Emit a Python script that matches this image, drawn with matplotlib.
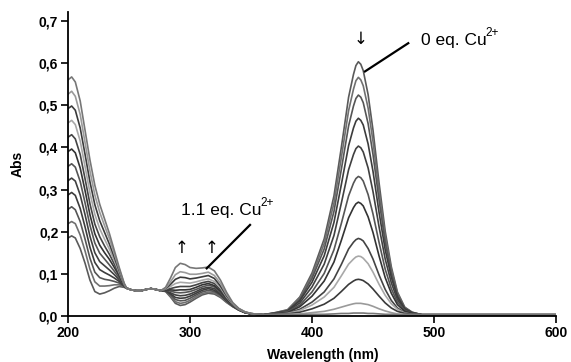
import matplotlib
matplotlib.use("Agg")
import matplotlib.pyplot as plt

plt.rcParams['font.family'] = ['Liberation Sans', 'DejaVu Sans']

# ---- data ----
# UV region, per curve (0 eq ... 1.1 eq Cu2+)
wl_uv = [200, 203, 206, 210, 214, 218, 222, 226, 230, 234, 238, 242, 246, 248]
abs_uv = [
    [0.185, 0.190, 0.185, 0.160, 0.125, 0.085, 0.058, 0.052, 0.055, 0.060, 0.066, 0.070, 0.068, 0.066],
    [0.219, 0.224, 0.219, 0.192, 0.154, 0.111, 0.081, 0.071, 0.071, 0.072, 0.074, 0.074, 0.069, 0.066],
    [0.253, 0.259, 0.252, 0.224, 0.182, 0.137, 0.104, 0.091, 0.087, 0.085, 0.082, 0.078, 0.070, 0.066],
    [0.287, 0.293, 0.286, 0.255, 0.211, 0.163, 0.127, 0.110, 0.103, 0.097, 0.090, 0.082, 0.071, 0.066],
    [0.321, 0.327, 0.320, 0.287, 0.240, 0.189, 0.150, 0.129, 0.119, 0.109, 0.098, 0.086, 0.072, 0.066],
    [0.355, 0.361, 0.353, 0.319, 0.268, 0.215, 0.173, 0.149, 0.135, 0.121, 0.106, 0.090, 0.073, 0.066],
    [0.390, 0.396, 0.387, 0.351, 0.297, 0.240, 0.195, 0.168, 0.150, 0.134, 0.115, 0.095, 0.073, 0.066],
    [0.424, 0.430, 0.420, 0.383, 0.325, 0.266, 0.218, 0.188, 0.166, 0.146, 0.123, 0.099, 0.074, 0.066],
    [0.458, 0.464, 0.454, 0.415, 0.354, 0.292, 0.241, 0.207, 0.182, 0.158, 0.131, 0.103, 0.075, 0.066],
    [0.492, 0.498, 0.488, 0.446, 0.383, 0.318, 0.264, 0.226, 0.198, 0.170, 0.139, 0.107, 0.076, 0.066],
    [0.526, 0.533, 0.521, 0.478, 0.411, 0.344, 0.287, 0.246, 0.214, 0.183, 0.147, 0.111, 0.077, 0.066],
    [0.560, 0.567, 0.555, 0.510, 0.440, 0.370, 0.310, 0.265, 0.230, 0.195, 0.155, 0.115, 0.078, 0.066],
]

# isosbestic stretch, common to all curves
wl_iso = [252, 256, 260, 264, 268, 272, 276]
abs_iso = [0.062, 0.060, 0.060, 0.063, 0.065, 0.063, 0.060]

# 280-355 nm region, per curve
wl_mid = [280, 284, 288, 292, 296, 300, 305, 310, 315, 320, 325, 330, 335, 340, 345, 350, 355]
abs_mid = [
    [0.058, 0.045, 0.030, 0.025, 0.027, 0.033, 0.042, 0.050, 0.054, 0.052, 0.044, 0.032, 0.022, 0.014, 0.008, 0.005, 0.004],
    [0.059, 0.047, 0.034, 0.030, 0.032, 0.037, 0.046, 0.053, 0.057, 0.055, 0.046, 0.033, 0.023, 0.014, 0.008, 0.005, 0.004],
    [0.059, 0.050, 0.039, 0.036, 0.037, 0.042, 0.050, 0.057, 0.061, 0.058, 0.049, 0.035, 0.023, 0.014, 0.008, 0.005, 0.004],
    [0.060, 0.053, 0.044, 0.042, 0.043, 0.047, 0.054, 0.061, 0.065, 0.061, 0.051, 0.036, 0.024, 0.015, 0.008, 0.005, 0.004],
    [0.060, 0.055, 0.050, 0.048, 0.049, 0.052, 0.058, 0.065, 0.068, 0.065, 0.053, 0.038, 0.024, 0.015, 0.008, 0.005, 0.004],
    [0.061, 0.059, 0.056, 0.055, 0.056, 0.058, 0.063, 0.069, 0.073, 0.069, 0.056, 0.039, 0.025, 0.015, 0.009, 0.005, 0.004],
    [0.062, 0.062, 0.061, 0.062, 0.062, 0.063, 0.068, 0.074, 0.077, 0.072, 0.059, 0.041, 0.026, 0.015, 0.009, 0.005, 0.004],
    [0.063, 0.065, 0.068, 0.070, 0.070, 0.070, 0.074, 0.079, 0.082, 0.077, 0.062, 0.043, 0.027, 0.016, 0.009, 0.005, 0.004],
    [0.064, 0.070, 0.077, 0.080, 0.079, 0.078, 0.081, 0.085, 0.088, 0.082, 0.067, 0.045, 0.028, 0.016, 0.009, 0.006, 0.004],
    [0.065, 0.075, 0.087, 0.092, 0.091, 0.088, 0.090, 0.093, 0.096, 0.089, 0.071, 0.048, 0.029, 0.017, 0.009, 0.006, 0.004],
    [0.066, 0.081, 0.098, 0.105, 0.103, 0.099, 0.099, 0.101, 0.104, 0.096, 0.077, 0.051, 0.030, 0.017, 0.010, 0.006, 0.004],
    [0.068, 0.090, 0.115, 0.125, 0.122, 0.115, 0.113, 0.114, 0.116, 0.107, 0.085, 0.056, 0.032, 0.018, 0.010, 0.006, 0.004],
]

# visible band, per curve
wl_vis = [360, 370, 380, 390, 400, 410, 418, 424, 430, 434, 436, 438, 440, 442, 446, 450,
          455, 460, 465, 470, 476, 482, 490, 500, 600]
abs_vis = [
    [0.003, 0.008, 0.015, 0.045, 0.102, 0.183, 0.285, 0.399, 0.519, 0.573, 0.594, 0.603, 0.597, 0.582, 0.525, 0.441, 0.315, 0.201, 0.117, 0.057, 0.021, 0.009, 0.003, 0.003, 0.003],
    [0.003, 0.008, 0.014, 0.042, 0.096, 0.172, 0.268, 0.375, 0.487, 0.538, 0.558, 0.566, 0.560, 0.546, 0.493, 0.414, 0.296, 0.189, 0.110, 0.054, 0.020, 0.009, 0.003, 0.003, 0.003],
    [0.003, 0.007, 0.013, 0.039, 0.089, 0.159, 0.248, 0.347, 0.451, 0.498, 0.516, 0.524, 0.519, 0.506, 0.456, 0.383, 0.274, 0.175, 0.102, 0.050, 0.019, 0.008, 0.003, 0.003, 0.003],
    [0.003, 0.007, 0.012, 0.036, 0.080, 0.143, 0.222, 0.311, 0.404, 0.446, 0.462, 0.469, 0.464, 0.453, 0.408, 0.343, 0.245, 0.157, 0.092, 0.045, 0.017, 0.008, 0.003, 0.003, 0.003],
    [0.003, 0.006, 0.011, 0.031, 0.069, 0.123, 0.191, 0.267, 0.347, 0.383, 0.397, 0.403, 0.399, 0.389, 0.351, 0.295, 0.211, 0.135, 0.079, 0.039, 0.015, 0.007, 0.003, 0.003, 0.003],
    [0.003, 0.006, 0.010, 0.026, 0.057, 0.101, 0.157, 0.219, 0.285, 0.315, 0.326, 0.331, 0.328, 0.320, 0.288, 0.242, 0.174, 0.111, 0.065, 0.033, 0.013, 0.006, 0.003, 0.003, 0.003],
    [0.003, 0.005, 0.008, 0.022, 0.047, 0.083, 0.128, 0.179, 0.233, 0.257, 0.266, 0.270, 0.267, 0.261, 0.235, 0.198, 0.142, 0.091, 0.054, 0.027, 0.011, 0.006, 0.003, 0.003, 0.003],
    [0.003, 0.004, 0.007, 0.016, 0.033, 0.057, 0.088, 0.122, 0.159, 0.175, 0.181, 0.184, 0.182, 0.178, 0.160, 0.135, 0.097, 0.063, 0.037, 0.019, 0.008, 0.005, 0.003, 0.003, 0.003],
    [0.003, 0.004, 0.006, 0.013, 0.026, 0.045, 0.068, 0.095, 0.123, 0.135, 0.140, 0.142, 0.141, 0.137, 0.124, 0.104, 0.075, 0.049, 0.029, 0.016, 0.007, 0.004, 0.003, 0.003, 0.003],
    [0.003, 0.004, 0.005, 0.009, 0.017, 0.028, 0.042, 0.058, 0.075, 0.083, 0.086, 0.087, 0.086, 0.084, 0.076, 0.064, 0.047, 0.031, 0.019, 0.011, 0.006, 0.004, 0.003, 0.003, 0.003],
    [0.003, 0.003, 0.004, 0.005, 0.008, 0.011, 0.016, 0.021, 0.026, 0.029, 0.030, 0.030, 0.030, 0.029, 0.027, 0.023, 0.017, 0.012, 0.008, 0.005, 0.004, 0.003, 0.003, 0.003, 0.003],
    [0.003, 0.003, 0.003, 0.003, 0.004, 0.004, 0.005, 0.006, 0.006, 0.007, 0.007, 0.007, 0.007, 0.007, 0.006, 0.006, 0.005, 0.004, 0.004, 0.003, 0.003, 0.003, 0.003, 0.003, 0.003],
]

curve_colors = ['#5a5a5a', '#707070', '#555555', '#3c3c3c', '#404040', '#555555',
                '#333333', '#444444', '#a8a8a8', '#3a3a3a', '#9a9a9a', '#777777']

x_ticks = [200, 300, 400, 500, 600]
y_ticks = [0.0, 0.1, 0.2, 0.3, 0.4, 0.5, 0.6, 0.7]
y_tick_labels = ['0,0', '0,1', '0,2', '0,3', '0,4', '0,5', '0,6', '0,7']

# ---- figure ----
fig = plt.figure(figsize=(5.71, 3.62), dpi=100)
ax = fig.add_axes([68/571, 46/362, 488/571, 304/362])

wl_all = wl_uv + wl_iso + wl_mid + wl_vis
for k in range(len(abs_uv)):
    y_all = abs_uv[k] + abs_iso + abs_mid[k] + abs_vis[k]
    ax.plot(wl_all, y_all, color=curve_colors[k], lw=1.2, solid_joinstyle='round')

ax.set_xlim(200, 600)
ax.set_ylim(0, 0.721)
ax.set_xticks(x_ticks)
ax.set_xticklabels([str(t) for t in x_ticks], fontweight='bold', fontsize=10)
ax.set_yticks(y_ticks)
ax.set_yticklabels(y_tick_labels, fontweight='bold', fontsize=10)
ax.tick_params(direction='out', length=5, width=1.2, colors='black', pad=2)
for s in ['top', 'right']:
    ax.spines[s].set_visible(False)
for s in ['left', 'bottom']:
    ax.spines[s].set_linewidth(1.3)

ax.set_xlabel('Wavelength (nm)', fontweight='bold', fontsize=10)
ax.xaxis.set_label_coords(0.523, -0.105)
ax.set_ylabel('Abs', fontweight='bold', fontsize=10)
ax.yaxis.set_label_coords(-0.088, 0.5)

# annotations
t0 = ax.text(489, 0.643, '0 eq. Cu', fontsize=12.5, va='baseline', ha='left')
ax.annotate('2+', xy=(0.985, 0.6), xycoords=t0, fontsize=8.5, va='bottom', ha='left')
ax.plot([443.4, 478.9], [0.580, 0.647], color='black', lw=1.6)
t1 = ax.text(293, 0.240, '1.1 eq. Cu', fontsize=12.5, va='baseline', ha='left')
ax.annotate('2+', xy=(0.985, 0.6), xycoords=t1, fontsize=8.5, va='bottom', ha='left')
ax.plot([313.7, 349.2], [0.113, 0.216], color='black', lw=1.6)
ax.text(293.2, 0.161, '↑', fontsize=12, ha='center', va='center', family='DejaVu Sans')
ax.text(317.8, 0.161, '↑', fontsize=12, ha='center', va='center', family='DejaVu Sans')
ax.text(440.2, 0.657, '↓', fontsize=12, ha='center', va='center', family='DejaVu Sans')

fig.savefig('out.png', dpi=100)
